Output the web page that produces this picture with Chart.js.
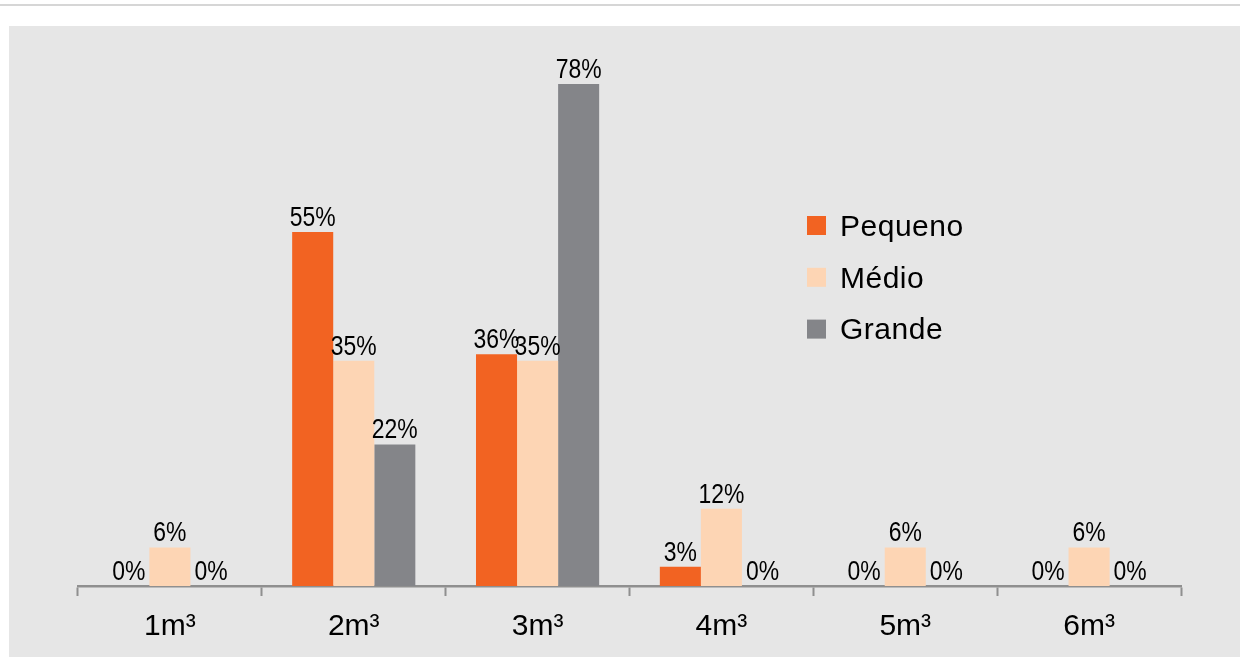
<!DOCTYPE html>
<html>
<head>
<meta charset="utf-8">
<script src="https://cdn.jsdelivr.net/npm/chart.js@4.4.1/dist/chart.umd.min.js"></script>
<style>
  html, body { margin: 0; padding: 0; background: #ffffff; width: 1240px; height: 657px; overflow: hidden; }
  #topline { position: absolute; left: 0; top: 4px; width: 1240px; height: 2px; background: #d6d6d6; }
  #panel { position: absolute; left: 9px; top: 26px; right: 0; bottom: 0; background: #e6e6e6; }
  #c { position: absolute; left: 0; top: 0; }
</style>
</head>
<body>
<div id="topline"></div>
<div id="panel"></div>
<canvas id="c" width="1240" height="657"></canvas>
<script>
const categories = ['1m³', '2m³', '3m³', '4m³', '5m³', '6m³'];
const seriesNames = ['Pequeno', 'Médio', 'Grande'];
const pequeno = [0, 55, 36, 3, 0, 0];
const medio = [6, 35, 35, 12, 6, 6];
const grande = [0, 22, 78, 0, 0, 0];
const colors = ['#f26322', '#fdd5b4', '#848589'];

const dataLabels = {
  id: 'dataLabels',
  afterDatasetsDraw(chart) {
    const ctx = chart.ctx;
    chart.data.datasets.forEach((ds, di) => {
      const meta = chart.getDatasetMeta(di);
      meta.data.forEach((el, i) => {
        ctx.save();
        ctx.font = '27px "Liberation Sans", Arial, sans-serif';
        ctx.fillStyle = '#000000';
        ctx.textAlign = 'center';
        ctx.textBaseline = 'alphabetic';
        ctx.translate(el.x, el.y - 6);
        ctx.scale(0.85, 1);
        ctx.fillText(ds.data[i] + '%', 0, 0);
        ctx.restore();
      });
    });
  }
};

const customLegend = {
  id: 'customLegend',
  afterDraw(chart) {
    const ctx = chart.ctx;
    ctx.save();
    ctx.font = '30px "Liberation Sans", Arial, sans-serif';
    ctx.textAlign = 'left';
    ctx.textBaseline = 'alphabetic';
    try { ctx.letterSpacing = '0.5px'; } catch (e) {}
    chart.data.datasets.forEach((ds, i) => {
      const y = 216 + 51.8 * i;
      ctx.fillStyle = ds.backgroundColor;
      ctx.fillRect(807, y, 19, 19);
      ctx.fillStyle = '#000000';
      ctx.fillText(ds.label, 840, y + 19.7);
    });
    ctx.restore();
  }
};

new Chart(document.getElementById('c'), {
  type: 'bar',
  data: {
    labels: categories,
    datasets: [
      { label: seriesNames[0], data: pequeno, backgroundColor: colors[0] },
      { label: seriesNames[1], data: medio, backgroundColor: colors[1] },
      { label: seriesNames[2], data: grande, backgroundColor: colors[2] }
    ]
  },
  options: {
    responsive: false,
    animation: false,
    devicePixelRatio: 1,
    layout: { padding: { left: 78, right: 59, top: 39, bottom: 0 } },
    datasets: { bar: { categoryPercentage: 0.67, barPercentage: 1.0, borderWidth: 0 } },
    plugins: {
      legend: { display: false },
      tooltip: { enabled: false },
      title: { display: false }
    },
    scales: {
      x: {
        offset: true,
        afterFit(scale) { scale.height = 71; },
        grid: {
          offset: true,
          drawOnChartArea: false,
          drawTicks: true,
          tickLength: 10,
          color: '#8f8f8f',
          tickWidth: 2
        },
        border: { display: true, color: '#8f8f8f', width: 2.5 },
        ticks: {
          color: '#000000',
          padding: 13,
          maxRotation: 0,
          font: { family: '"Liberation Sans", Arial, sans-serif', size: 30 }
        }
      },
      y: {
        display: false,
        min: 0,
        max: 85
      }
    }
  },
  plugins: [dataLabels, customLegend]
});
</script>
</body>
</html>
